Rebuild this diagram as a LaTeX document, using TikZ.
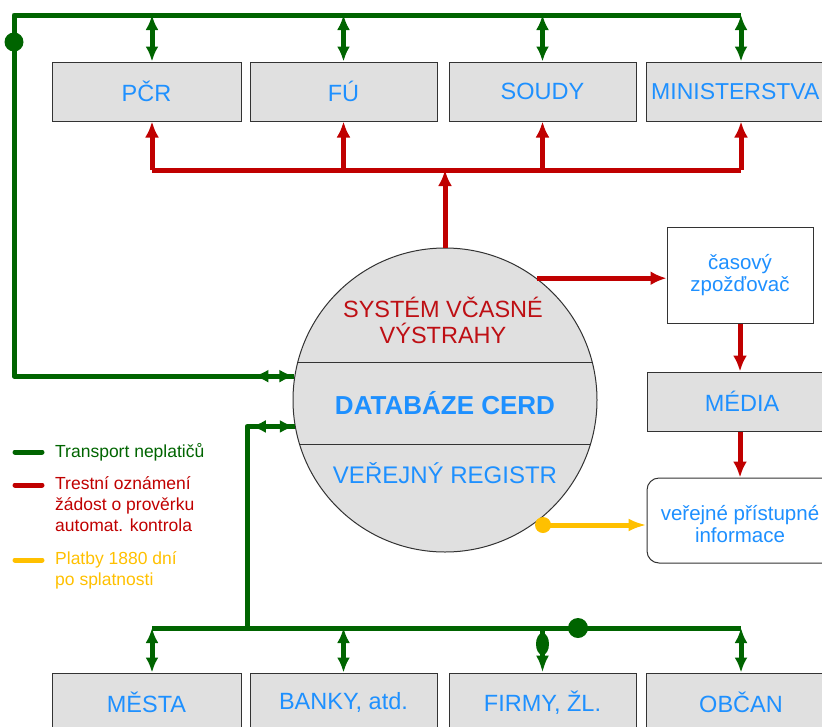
\documentclass[tikz,border=0pt]{standalone}
\usepackage{fontspec}
\setmainfont{Liberation Sans}
\usetikzlibrary{arrows.meta,calc}
\definecolor{gr}{RGB}{0,100,0}
\definecolor{rd}{RGB}{192,0,0}
\definecolor{rtext}{RGB}{190,15,20}
\definecolor{yl}{RGB}{255,192,0}
\definecolor{tblue}{RGB}{30,144,255}
\definecolor{boxgray}{RGB}{224,224,224}
\begin{document}
\begin{tikzpicture}[x=1pt,y=-1pt,
  gbox/.style={draw=black!80, fill=boxgray, line width=1pt, minimum height=59pt, inner sep=0pt,
    font=\fontsize{23.5}{26}\selectfont, text=tblue},
  wbox/.style={draw=black!80, fill=white, line width=1pt, inner sep=0pt, align=center,
    font=\fontsize{20.5}{22}\selectfont, text=tblue},
  gline/.style={draw=gr, line width=5pt},
  rline/.style={draw=rd, line width=5pt},
  yline/.style={draw=yl, line width=5pt},
  gtip/.style={{Latex[length=15pt,width=13pt]}-{Latex[length=15pt,width=13pt]}},
  rtip/.style={-{Latex[length=16pt,width=14pt]}},
  legtext/.style={anchor=west, align=left, inner sep=0pt, font=\fontsize{17.5}{21}\selectfont}
]
\useasboundingbox (0,0) rectangle (822,726);

% boxes top
\node[gbox, minimum width=189pt] (pcr) at (146.5,91.5) {PČR};
\node[gbox, minimum width=187pt] (fu) at (343.5,91.5) {FÚ};
\node[gbox, minimum width=187pt] (soudy) at (542.5,91.5) {SOUDY};
\node[gbox, minimum width=190pt] (min) at (741,91.5) {};
\node[anchor=west, inner sep=0pt, text=tblue, font=\fontsize{23}{26}\selectfont] (mintext) at (651,91.5) {MINISTERSTVA};
% boxes bottom
\node[gbox, minimum width=189pt] (mesta) at (146.5,702.5) {MĚSTA};
\node[gbox, minimum width=187pt] (banky) at (343.5,702.5) {BANKY, atd.};
\node[gbox, minimum width=187pt] (firmy) at (542.5,702.5) {FIRMY, ŽL.};
\node[gbox, minimum width=190pt] (obcan) at (741,702.5) {OBČAN};

% circle
\node[circle, draw=black!80, fill=boxgray, line width=1pt, minimum size=304pt, inner sep=0pt] (cerd) at (445,400) {};
\draw[black!80, line width=1pt] (297.5,362) -- (592.5,362);
\draw[black!80, line width=1pt] (299.5,444) -- (590.5,444);
\node[text=rtext, align=center, font=\fontsize{23.5}{26}\selectfont] (sys) at (443,320) {SYSTÉM VČASNÉ\\VÝSTRAHY};
\node[text=tblue, font=\bfseries\fontsize{26}{28}\selectfont] (db) at (445,403) {DATABÁZE CERD};
\node[text=tblue, font=\fontsize{24}{26}\selectfont] (reg) at (445,473) {VEŘEJNÝ REGISTR};

% right side boxes
\node[wbox, minimum width=146pt, minimum height=96pt] (cas) at (740,275) {časový\\zpožďovač};
\node[gbox, minimum width=190pt] (media) at (742,401.5) {MÉDIA};
\node[wbox, minimum width=190pt, minimum height=85pt, rounded corners=12pt] (ver) at (742,520.5) {};
\node[text=tblue, align=center, inner sep=0pt, font=\fontsize{20.5}{22}\selectfont] (vertext) at (740,524) {veřejné přístupné\\informace};

% coordinates
\coordinate (rj) at (445,170);
\coordinate (pcrS) at ([xshift=5.5pt]pcr.south);
\coordinate (pcrN) at ([xshift=5.5pt]pcr.north);
\coordinate (mesN) at ([xshift=5.5pt]mesta.north);
\coordinate (gTL) at (14,15);
\coordinate (gB) at (247,628);
\coordinate (yd) at (543,525);
\coordinate (gdot) at (578,628);

% red connections
\draw[rline] (pcrS |- rj) -- (min.south |- rj);
\draw[rline, rtip] (cerd.north) -- (rj);
\draw[rline, rtip] (pcrS |- rj) -- (pcrS);
\draw[rline, rtip] (fu.south |- rj) -- (fu.south);
\draw[rline, rtip] (soudy.south |- rj) -- (soudy.south);
\draw[rline, rtip] (min.south |- rj) -- (min.south);
\draw[rline, rtip] (cerd.53) -- (cerd.53 -| cas.west);
\draw[rline, rtip] (cas.south) -- (cas.south |- media.north);
\draw[rline, rtip] (cas.south |- media.south) -- (cas.south |- ver.north);

% yellow
\draw[yline, -{Latex[length=18pt,width=13pt]}] (yd) -- (yd -| ver.west);
\fill[yl] (yd) circle (8);

% green top loop
\draw[gline, line join=round] (cerd.171.7) -- (cerd.171.7 -| gTL) -- (gTL) -- (gTL -| min.north);
\draw[gline, gtip] (pcrN |- gTL) -- (pcrN);
\draw[gline, gtip] (fu.north |- gTL) -- (fu.north);
\draw[gline, gtip] (soudy.north |- gTL) -- (soudy.north);
\draw[gline, gtip] (min.north |- gTL) -- (min.north);
\draw[gline, gtip] ([xshift=-41pt]cerd.171.7) -- (cerd.171.7);
\fill[gr] (14,42) circle (9.5);

% green bottom
\draw[gline, line join=round] (cerd.190.2) -- (cerd.190.2 -| gB) -- (gB);
\draw[gline] (mesN |- gB) -- (obcan.north |- gB);
\draw[gline, gtip] ([xshift=-44pt]cerd.190.2) -- (cerd.190.2);
\draw[gline, gtip] (mesN |- gB) -- (mesN);
\draw[gline, gtip] (banky.north |- gB) -- (banky.north);
\draw[gline, -{Latex[length=17pt,width=13pt]}] (firmy.north |- gB) -- (firmy.north);
\fill[gr] ($(firmy.north |- gB)+(0,16)$) ellipse (6.5 and 11);
\draw[gline, gtip] (obcan.north |- gB) -- (obcan.north);
\fill[gr] (gdot) circle (10);

% legend
\draw[gline, line cap=round] (15,452) -- (42,452);
\node[legtext, text=gr] (lg1) at (55,452) {Transport neplatičů};
\draw[rline, line cap=round] (15,485) -- (42,485);
\node[legtext, text=rd, anchor=north west] (lg2) at (55,476) {Trestní oznámení\\žádost o prověrku\\automat. kontrola};
\draw[yline, line cap=round] (15,560) -- (42,560);
\node[legtext, text=yl, anchor=north west] (lg3) at (55,551) {Platby 1880 dní\\po splatnosti};
\end{tikzpicture}
\end{document}
